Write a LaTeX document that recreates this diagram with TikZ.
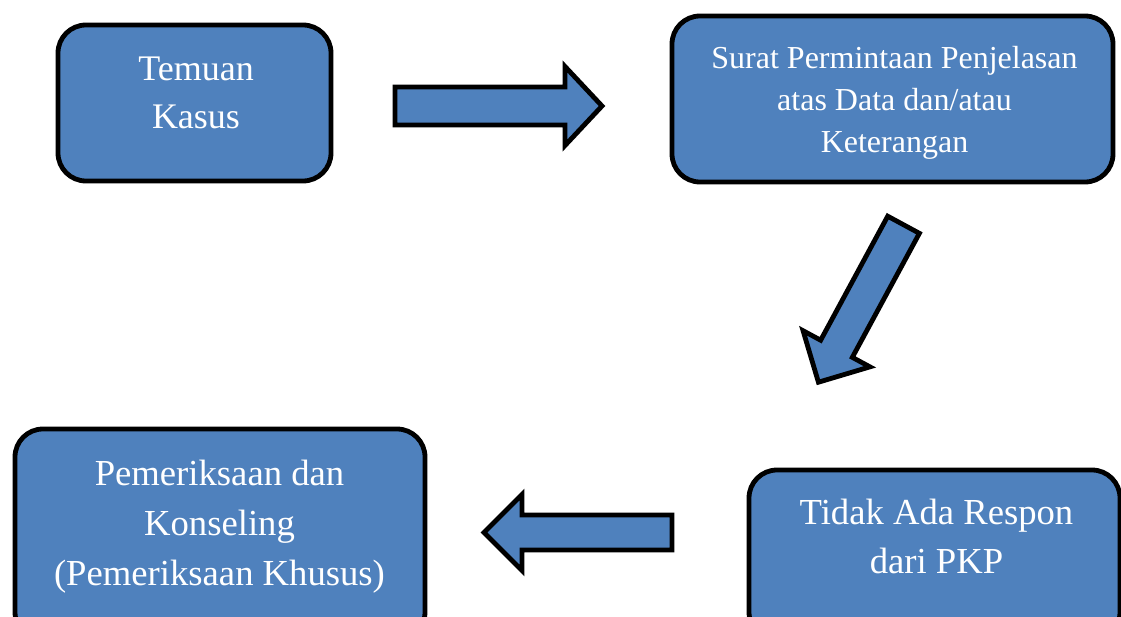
\documentclass[tikz,border=0pt]{standalone}
\usepackage{fontspec}
\setmainfont{Liberation Serif}
\definecolor{boxblue}{RGB}{79,129,189}
\tikzset{
  flowbox/.style={draw=black, fill=boxblue, line width=3.6pt, rounded corners=21pt,
    rectangle, inner sep=0pt, outer sep=0pt},
  boxtext/.style={text=white, align=center, anchor=base, inner sep=0pt},
  blockarrow/.style={draw=black, fill=boxblue, line width=3.6pt, line join=miter},
}
\begin{document}
\begin{tikzpicture}[x=0.75pt, y=-0.75pt]
\useasboundingbox (0,0) rectangle (1121,617);
\clip (0,0) rectangle (1121,617);
\fill[white] (0,0) rectangle (1121,617);

% boxes
\node[flowbox, minimum width=204.75pt, minimum height=117pt] (temuan) at (194.5,103) {};
\node[flowbox, minimum width=330.75pt, minimum height=124.5pt] (surat) at (892.5,99) {};
\node[flowbox, minimum width=278.25pt, minimum height=127.5pt] (tidak) at (934.5,555) {};
\node[flowbox, minimum width=307.5pt, minimum height=158.25pt] (periksa) at (220,534.5) {};

% texts (anchored at the baseline of the last line)
\node[boxtext, font=\fontsize{27}{36}\selectfont] (temuanT) at (196,128) {Temuan\\Kasus};
\node[boxtext, font=\fontsize{24}{31.5}\selectfont] (suratT) at (894.5,152) {Surat Permintaan Penjelasan\\atas Data dan/atau\\Keterangan};
\node[boxtext, font=\fontsize{27.5}{36.75}\selectfont] (tidakT) at (936.5,573) {Tidak Ada Respon\\dari PKP};
\node[boxtext, font=\fontsize{27.5}{37.5}\selectfont] (periksaT) at (219.5,585) {Pemeriksaan dan\\Konseling\\(Pemeriksaan Khusus)};

% block arrows
\begin{scope}[shift={(395,106)}]
\draw[blockarrow] (0,-19) -- (170,-19) -- (170,-39.5) -- (207,0) -- (170,39.5) -- (170,19) -- (0,19) -- cycle;
\end{scope}
\begin{scope}[shift={(904.5,223)}, rotate=241.6]
\draw[blockarrow] (2,-18) -- (143,-18) -- (143,-38) -- (181,0) -- (143,38) -- (143,18) -- (2,18) -- cycle;
\end{scope}
\begin{scope}[shift={(672,532.5)}, rotate=180]
\draw[blockarrow] (0,-17.5) -- (150,-17.5) -- (150,-38) -- (188,0) -- (150,38) -- (150,17.5) -- (0,17.5) -- cycle;
\end{scope}
\end{tikzpicture}
\end{document}
